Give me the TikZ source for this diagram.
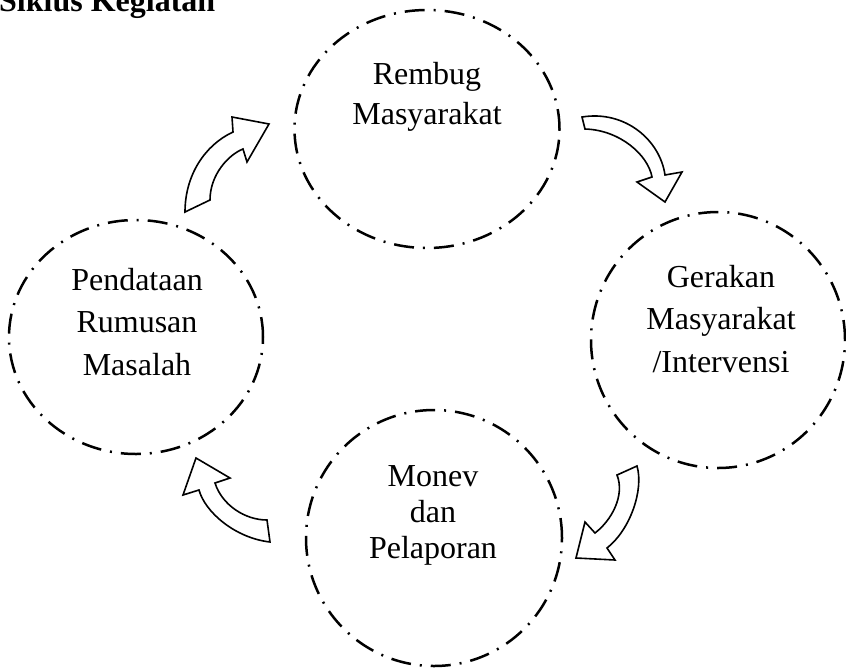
\documentclass[tikz,border=0pt]{standalone}
\usepackage{fontspec}
\setmainfont{Liberation Serif}
\usetikzlibrary{shapes.geometric}

\tikzset{
  stage/.style={ellipse, draw=black, line width=2.5pt, inner sep=0pt,
    dash pattern=on 20pt off 9pt on 2pt off 9pt},
  label/.style={align=center, font=\fontsize{32}{42.5}\selectfont},
  blockarrow/.style={draw=black, fill=white, line width=1.6pt, line join=miter}
}

\begin{document}
\begin{tikzpicture}[x=1pt, y=-1pt]
  \useasboundingbox (0,0) rectangle (846,667);

  % title
  \node[anchor=base west, inner sep=0pt, font=\fontsize{32}{38}\selectfont\bfseries]
    (title) at (-1,11) {Siklus Kegiatan};

  % the four stages of the cycle
  \node[stage, minimum width=265pt, minimum height=238pt] (rembug)  at (427,129) {};
  \node[stage, minimum width=254pt, minimum height=234pt] (pendata) at (136,337) {};
  \node[stage, minimum width=254pt, minimum height=256pt] (gerakan) at (718,340) {};
  \node[stage, minimum width=256pt, minimum height=256pt] (monev)   at (434,538) {};

  \node[label, font=\fontsize{32}{40}\selectfont] (trembug) at (427,97) {Rembug\\Masyarakat};
  \node[label] (tpendata) at (137,322) {Pendataan\\Rumusan\\Masalah};
  \node[label] (tgerakan) at (721,319) {Gerakan\\Masyarakat\\/Intervensi};
  \node[label, font=\fontsize{32}{36}\selectfont] (tmonev) at (433,515) {Monev\\dan\\Pelaporan};

  % curved block arrows between the stages
  % Pendataan -> Rembug
  \draw[blockarrow] (185,212) .. controls (185,175) and (205,145) .. (233,132)
    -- (232,117) -- (269,124) -- (247,162) -- (243,149)
    .. controls (228,155) and (210,175) .. (210,200) -- cycle;
  % Rembug -> Gerakan
  \draw[blockarrow] (582,117) .. controls (625,110) and (660,140) .. (665,175)
    -- (682,172) -- (665,202) -- (637,182) -- (652,177)
    .. controls (648,155) and (620,130) .. (585,129) -- cycle;
  % Gerakan -> Monev
  \draw[blockarrow] (637,466) .. controls (644,490) and (630,530) .. (607,548)
    -- (615,560) -- (576,558) -- (585,522) -- (595,533)
    .. controls (612,520) and (625,495) .. (617,475) -- cycle;
  % Monev -> Pendataan
  \draw[blockarrow] (270,542) .. controls (235,538) and (205,512) .. (199,490)
    -- (183,495) -- (196,458) -- (230,478) -- (215,483)
    .. controls (222,505) and (245,520) .. (267,520) -- cycle;
\end{tikzpicture}
\end{document}
